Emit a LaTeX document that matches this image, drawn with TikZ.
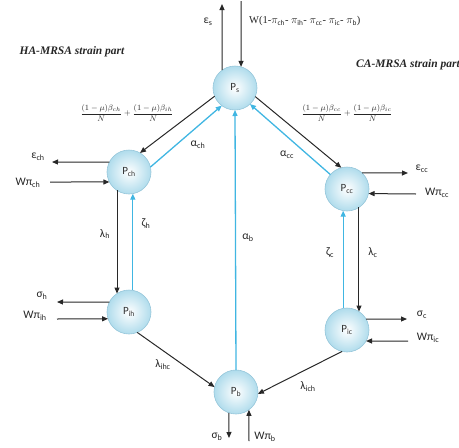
\documentclass[tikz,border=0pt]{standalone}
\usepackage{fontspec}
\setmainfont{Carlito}
\newfontfamily\serifx{Liberation Serif}
\usetikzlibrary{arrows.meta}
\definecolor{ballblue}{RGB}{176,220,236}
\definecolor{ballrim}{RGB}{150,198,218}
\definecolor{cyanline}{RGB}{64,182,226}
\definecolor{darkline}{RGB}{40,40,40}
\newcommand\sbx[1]{\textsubscript{#1}}
\begin{document}
\begin{tikzpicture}[x=1pt,y=-1pt,
  ball/.style={circle, minimum size=44pt, inner sep=0pt, outer sep=0pt,
    inner color=white, outer color=ballblue, draw=ballrim, line width=0.6pt,
    font=\fontsize{11}{12}\selectfont, text=black!80},
  blk/.style={draw=darkline, line width=1pt, -{Triangle[length=6pt,width=5pt]}},
  cyn/.style={draw=cyanline, line width=1.3pt, -{Triangle[length=6pt,width=5pt]}},
  lab/.style={inner sep=0pt, font=\fontsize{11.5}{12}\selectfont, text=black!85},
  title/.style={inner sep=0pt, font=\serifx\bfseries\itshape\fontsize{11.5}{13}\selectfont, text=black!85},
  frac/.style={inner sep=0pt, font=\fontsize{8.5}{10}\selectfont, text=black!85},
]
\useasboundingbox (0,0) rectangle (459,448);

% states
\node[ball] (Ps)  at (235,88)  {P\sbx{s}};
\node[ball] (Pch) at (129,172) {P\sbx{ch}};
\node[ball] (Pcc) at (347,189) {P\sbx{cc}};
\node[ball] (Pih) at (129,312) {P\sbx{ih}};
\node[ball] (Pic) at (347,330) {P\sbx{ic}};
\node[ball] (Pb)  at (236,392) {P\sbx{b}};

% free ends
\coordinate (esE) at (222,4);
\coordinate (wsS) at (241,1);
\coordinate (echE) at (52,162);
\coordinate (wchS) at (50,182);
\coordinate (eccE) at (408,173);
\coordinate (wccS) at (416,194);
\coordinate (shE) at (57,302);
\coordinate (wihS) at (57,319);
\coordinate (scE) at (407,319);
\coordinate (wicS) at (408,341);
\coordinate (sbE) at (229,438);
\coordinate (wbS) at (249,441);

% Ps in/out
\draw[blk] (Ps.126) -- (esE);
\draw[blk] (wsS) -- (Ps.74);
\draw[blk] (Ps.202) -- (Pch.60);
\draw[blk] (Ps.337) -- (Pcc.105);
\draw[cyn] (Pch.13) -- (Ps.233);
\draw[cyn] (Pcc.139) -- (Ps.313);
\draw[cyn] (Pb.90) -- (Ps.270);

% HA branch
\draw[blk] (Pch.153) -- (echE);
\draw[blk] (wchS) -- (Pch.207);
\draw[blk] (Pch.237) -- (Pih.123);
\draw[cyn] (Pih.80) -- (Pch.280);
\draw[blk] (Pih.153) -- (shE);
\draw[blk] (wihS) -- (Pih.198);
\draw[blk] (Pih.292) -- (Pb.167);

% CA branch
\draw[blk] (Pcc.47) -- (eccE);
\draw[blk] (wccS) -- (Pcc.348);
\draw[blk] (Pcc.303) -- (Pic.57);
\draw[cyn] (Pic.100) -- (Pcc.260);
\draw[blk] (Pic.30) -- (scE);
\draw[blk] (wicS) -- (Pic.330);
\draw[blk] (Pic.257) -- (Pb.355);

% Pb
\draw[blk] (Pb.251) -- (sbE);
\draw[blk] (wbS) -- (Pb.306);

% labels
\node[lab] (les) at (208,22) {ε\sbx{s}};
\node[inner sep=0pt, anchor=west, font=\serifx\fontsize{10.5}{12}\selectfont, text=black!85] (lws) at (249,21)
  {W(1-$\pi_{\mathrm{ch}}$- $\pi_{\mathrm{ih}}$- $\pi_{\mathrm{cc}}$- $\pi_{\mathrm{ic}}$- $\pi_{\mathrm{b}}$)};
\node[title] (tha) at (72,52) {HA-MRSA strain part};
\node[title, anchor=west] (tca) at (356,65) {CA-MRSA strain part};
\node[frac] (fl) at (127,113) {$\displaystyle\frac{(1-\mu)\beta_{ch}}{N}+\frac{(1-\mu)\beta_{ih}}{N}$};
\node[frac] (fr) at (347,113) {$\displaystyle\frac{(1-\mu)\beta_{cc}}{N}+\frac{(1-\mu)\beta_{ic}}{N}$};
\node[lab] (lach) at (198,145) {α\sbx{ch}};
\node[lab] (lacc) at (287,155) {α\sbx{cc}};
\node[lab] (lech) at (38,157) {ε\sbx{ch}};
\node[lab] (lwch) at (28,183) {Wπ\sbx{ch}};
\node[lab] (lecc) at (422,169) {ε\sbx{cc}};
\node[lab] (lwcc) at (437,193) {Wπ\sbx{cc}};
\node[lab] (llh) at (105,234) {λ\sbx{h}};
\node[lab] (lzh) at (146,224) {ζ\sbx{h}};
\node[lab] (lab) at (248,238) {α\sbx{b}};
\node[lab] (lzc) at (330,253) {ζ\sbx{c}};
\node[lab] (llc) at (373,253) {λ\sbx{c}};
\node[lab] (lsh) at (42,296) {σ\sbx{h}};
\node[lab] (lwih) at (35,316) {Wπ\sbx{ih}};
\node[lab] (lsc) at (422,315) {σ\sbx{c}};
\node[lab] (lwic) at (428,338) {Wπ\sbx{ic}};
\node[lab] (llihc) at (163,365) {λ\sbx{ihc}};
\node[lab] (llich) at (308,387) {λ\sbx{ich}};
\node[lab] (lsb) at (217,437) {σ\sbx{b}};
\node[lab] (lwb) at (265,437) {Wπ\sbx{b}};
\end{tikzpicture}
\end{document}
